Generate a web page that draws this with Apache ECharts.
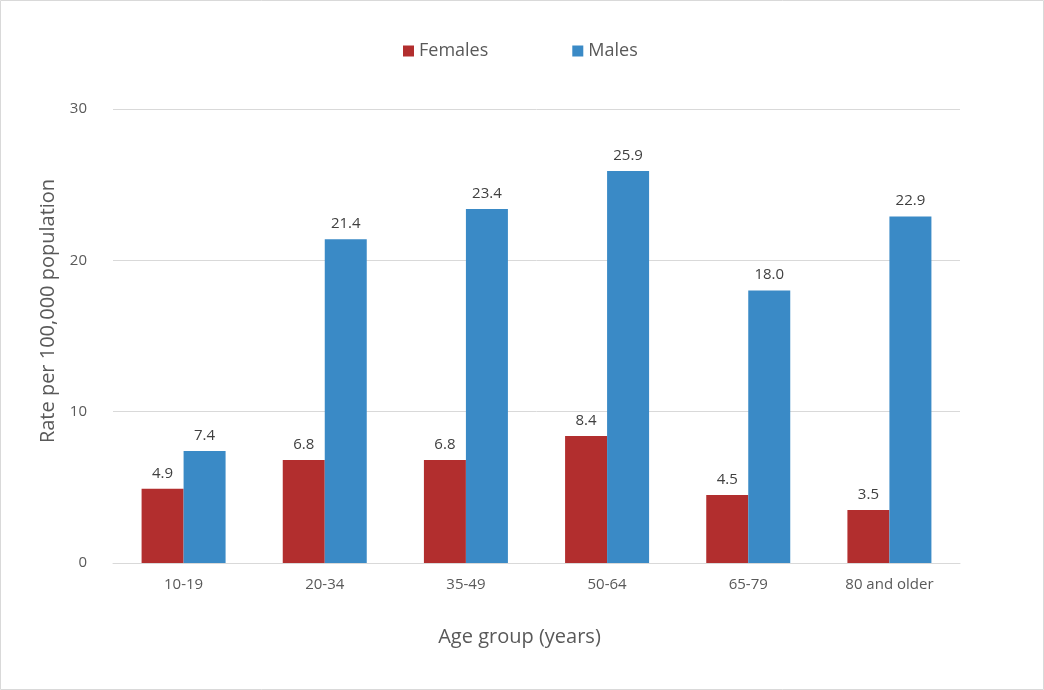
<!DOCTYPE html>
<html>
<head>
<meta charset="utf-8">
<script src="https://cdn.jsdelivr.net/npm/echarts@6/dist/echarts.min.js"></script>
<style>
  html, body { margin: 0; padding: 0; background: #fff; }
  #chart { width: 1044px; height: 690px; }
</style>
</head>
<body>
<div id="chart"></div>
<script>
var ageGroups = ["10-19", "20-34", "35-49", "50-64", "65-79", "80 and older"];
var females = [4.9, 6.8, 6.8, 8.4, 4.5, 3.5];
var males = [7.4, 21.4, 23.4, 25.9, 18.0, 22.9];

var textColor = "#595959";
var labelStyle = {
  show: true,
  position: "top",
  distance: 8,
  color: "#404040",
  fontSize: 15,
  fontFamily: "Open Sans",
  formatter: function (p) { return p.value.toFixed(1); }
};

var chart = echarts.init(document.getElementById("chart"));
chart.setOption({
  animation: false,
  textStyle: { fontFamily: "Open Sans" },
  graphic: [
    {
      type: "rect",
      shape: { x: 0.5, y: 0.5, width: 1043, height: 689 },
      style: { fill: "none", stroke: "#d9d9d9", lineWidth: 1 }
    }
  ],
  legend: {
    data: ["Females", "Males"],
    top: 37,
    left: 398,
    itemWidth: 11,
    itemHeight: 11,
    itemGap: 84,
    icon: "rect",
    textStyle: { color: textColor, fontSize: 18, fontFamily: "Open Sans" }
  },
  grid: { left: 113, right: 84, top: 109, bottom: 127 },
  xAxis: {
    type: "category",
    data: ageGroups,
    name: "Age group (years)",
    nameLocation: "middle",
    nameGap: 64,
    nameTextStyle: { color: textColor, fontSize: 20, fontFamily: "Open Sans", padding: [0, 34, 0, 0] },
    axisLine: { lineStyle: { color: "#d9d9d9" } },
    axisTick: { show: false },
    axisLabel: { color: textColor, fontSize: 15, margin: 14 }
  },
  yAxis: {
    type: "value",
    min: 0,
    max: 30,
    interval: 10,
    name: "Rate per 100,000 population",
    nameLocation: "middle",
    nameGap: 55,
    nameTextStyle: { color: textColor, fontSize: 20, fontFamily: "Open Sans", padding: [0, 0, 0, 50] },
    axisLine: { show: false },
    axisTick: { show: false },
    axisLabel: { color: textColor, fontSize: 15, margin: 26 },
    splitLine: { lineStyle: { color: "#d9d9d9" } }
  },
  series: [
    {
      name: "Females",
      type: "bar",
      data: females,
      barWidth: 42,
      barGap: "0%",
      itemStyle: { color: "#B22E2E" },
      label: labelStyle
    },
    {
      name: "Males",
      type: "bar",
      data: males,
      barWidth: 42,
      barGap: "0%",
      itemStyle: { color: "#3A8AC6" },
      label: labelStyle
    }
  ]
});
</script>
</body>
</html>
